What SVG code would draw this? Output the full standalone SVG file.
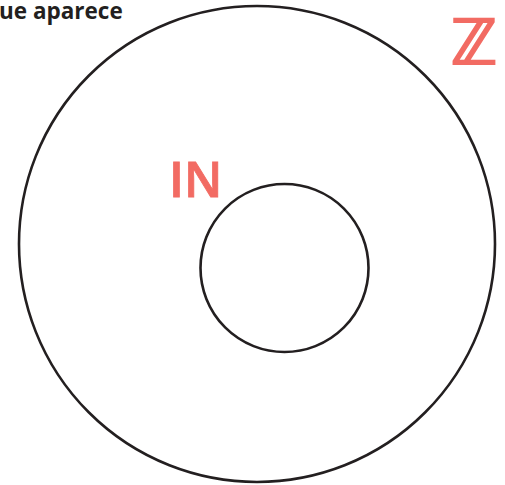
<svg xmlns="http://www.w3.org/2000/svg" width="505" height="485" viewBox="0 0 505 485">
<style>
.c{fill:none;stroke:#231f20;stroke-width:2.6}
.r{fill:#f26b63;font-family:"Open Sans","DejaVu Sans",sans-serif}
</style>
<rect width="505" height="485" fill="#fff"/>
<text x="-1" y="19" font-family="'Open Sans',sans-serif" font-weight="bold" font-size="22.5" fill="#231f20">ue aparece</text>
<g id="outer"><circle class="c" cx="257" cy="244" r="238"/></g>
<g id="inner"><circle class="c" cx="284.5" cy="268" r="84"/></g>
<text class="r" x="169" y="197" font-size="49" font-weight="600" stroke="#f26b63" stroke-width="0.8">IN</text>
<text class="r" x="497" y="64" font-size="62" text-anchor="end" stroke="#f26b63" stroke-width="2.2" stroke-linejoin="miter" font-family="'DejaVu Sans',sans-serif">ℤ</text>
</svg>
